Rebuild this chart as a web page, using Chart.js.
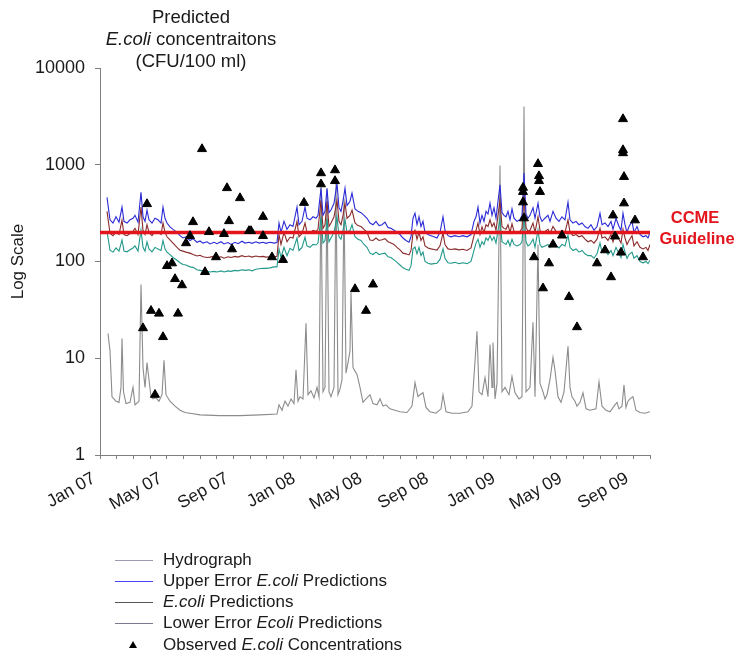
<!DOCTYPE html>
<html lang="en">
<head>
<meta charset="UTF-8" />
<title>Predicted E.coli concentrations</title>
<script src="https://cdn.jsdelivr.net/npm/chart.js"></script>
<style>
  html, body { margin: 0; padding: 0; background: #fff; }
  #wrap { width: 737px; height: 655px; }
</style>
</head>
<body>
<div id="wrap"><canvas id="ecoliChart" width="737" height="655"></canvas></div>
<script>
// x values are months since Jan 2007 (0 = Jan 07, 33 = Oct 09)
const tickLabels = ['Jan 07', 'May 07', 'Sep 07', 'Jan 08', 'May 08', 'Sep 08', 'Jan 09', 'May 09', 'Sep 09'];
const yTicks = [1, 10, 100, 1000, 10000];
const guideline = 200;

const hydroMonths = [
  0.48, 0.60, 0.72, 0.96, 1.14, 1.26, 1.32, 1.41, 1.56, 1.80,
  1.98, 2.10, 2.34, 2.46, 2.58, 2.70, 2.82, 2.94, 3.06, 3.18,
  3.36, 3.54, 3.72, 3.84, 3.96, 4.20, 4.50, 4.80, 5.10, 5.40,
  6.00, 7.20, 8.40, 9.60, 10.62, 10.74, 10.92, 11.10, 11.28, 11.46,
  11.64, 11.76, 11.88, 12.00, 12.18, 12.36, 12.48, 12.66, 12.84, 13.02,
  13.14, 13.26, 13.38, 13.50, 13.62, 13.74, 13.86, 14.04, 14.16, 14.28,
  14.40, 14.52, 14.64, 14.76, 14.88, 15.00, 15.06, 15.18, 15.42, 15.60,
  15.78, 15.96, 16.20, 16.38, 16.62, 16.80, 16.98, 17.16, 17.40, 17.70,
  18.00, 18.42, 18.72, 18.90, 19.08, 19.20, 19.38, 19.56, 19.80, 20.16,
  20.46, 20.58, 20.76, 21.12, 21.60, 22.08, 22.32, 22.62, 22.74, 22.92,
  23.10, 23.28, 23.40, 23.52, 23.58, 23.70, 23.82, 24.00, 24.12, 24.30,
  24.54, 24.72, 24.90, 25.14, 25.32, 25.44, 25.56, 25.80, 25.98, 26.10,
  26.28, 26.40, 26.58, 26.70, 26.82, 27.00, 27.18, 27.30, 27.48, 27.66,
  27.84, 28.08, 28.20, 28.32, 28.50, 28.62, 28.80, 28.98, 29.16, 29.40,
  29.76, 29.94, 30.12, 30.36, 30.60, 30.84, 31.02, 31.14, 31.32, 31.44,
  31.56, 31.68, 31.80, 31.98, 32.16, 32.40, 32.70, 33.00
];
const hydroFlow = [
  18, 12, 4.0, 3.6, 3.5, 5, 16, 4.5, 3.4, 3.5,
  5, 3.3, 3.6, 58, 8, 5, 9, 6, 4, 3.8,
  3.9, 3.6, 4.2, 9.5, 4.2, 3.6, 3.2, 2.9, 2.75, 2.7,
  2.6, 2.55, 2.55, 2.6, 2.65, 3.3, 2.9, 3.6, 3.2, 3.8,
  3.4, 7.6, 3.6, 4.0, 3.8, 23, 4.2, 4.6, 3.9, 5,
  4, 600, 4.5, 5, 550, 4.5, 4.0, 5, 700, 4.2,
  4.8, 6, 450, 7, 9, 12, 48, 8, 6.8, 5,
  3.5, 3.8, 4.2, 3.4, 3.3, 3.8, 3.2, 3.3, 3.0, 2.9,
  2.8, 2.75, 3.2, 5.6, 4, 4.2, 4.4, 3.1, 2.8, 2.7,
  3, 4.2, 2.8, 2.7, 2.7, 2.8, 3.2, 19, 4.5, 4.2,
  6.3, 4, 13.9, 5, 14.5, 3.8, 5.5, 980, 4.5, 5,
  4.2, 6.5, 4.4, 3.8, 4.0, 4000, 4.5, 5, 23.5, 4,
  150, 5.5, 4.5, 3.8, 4.2, 6, 10.2, 7.5, 4, 3.5,
  4.5, 13.3, 5, 4, 3.6, 3.2, 3.5, 4.4, 3.0, 2.9,
  3.0, 5.7, 3.2, 2.9, 2.8, 3.2, 3.5, 3, 3.2, 5.3,
  3.1, 3.6, 3.8, 4, 2.9, 2.75, 2.7, 2.8
];

const predMonths = [
  0.42, 0.60, 0.78, 0.96, 1.14, 1.32, 1.44, 1.62, 1.80, 1.98,
  2.10, 2.28, 2.46, 2.58, 2.70, 2.82, 2.94, 3.12, 3.30, 3.48,
  3.66, 3.78, 3.90, 4.02, 4.20, 4.38, 4.62, 4.80, 4.98, 5.16,
  5.40, 5.58, 5.82, 6.00, 6.18, 6.42, 6.60, 6.84, 7.02, 7.26,
  7.44, 7.68, 7.86, 8.10, 8.28, 8.52, 8.70, 8.94, 9.12, 9.36,
  9.54, 9.78, 9.96, 10.20, 10.44, 10.62, 10.74, 10.86, 11.04, 11.22,
  11.40, 11.58, 11.82, 11.94, 12.12, 12.30, 12.42, 12.60, 12.78, 12.96,
  13.08, 13.26, 13.38, 13.50, 13.62, 13.74, 13.86, 14.04, 14.22, 14.34,
  14.46, 14.58, 14.70, 14.82, 15.00, 15.12, 15.30, 15.48, 15.66, 15.84,
  16.02, 16.20, 16.38, 16.56, 16.74, 16.92, 17.10, 17.28, 17.46, 17.64,
  17.82, 18.00, 18.18, 18.36, 18.54, 18.66, 18.78, 18.90, 19.02, 19.14,
  19.26, 19.38, 19.50, 19.68, 19.86, 20.04, 20.22, 20.40, 20.58, 20.70,
  20.88, 21.06, 21.30, 21.54, 21.78, 22.02, 22.26, 22.44, 22.56, 22.68,
  22.80, 22.92, 23.04, 23.16, 23.28, 23.40, 23.52, 23.64, 23.76, 23.88,
  24.00, 24.12, 24.24, 24.36, 24.48, 24.60, 24.72, 24.84, 25.02, 25.20,
  25.32, 25.44, 25.56, 25.68, 25.80, 25.98, 26.10, 26.28, 26.40, 26.52,
  26.70, 26.88, 27.00, 27.18, 27.36, 27.54, 27.72, 27.90, 28.08, 28.20,
  28.38, 28.56, 28.74, 28.92, 29.10, 29.28, 29.46, 29.64, 29.82, 30.00,
  30.12, 30.30, 30.48, 30.66, 30.78, 30.96, 31.14, 31.26, 31.38, 31.50,
  31.62, 31.74, 31.92, 32.04, 32.22, 32.40, 32.58, 32.76, 32.88, 33.00
];
const upperPred = [
  460, 270, 250, 290, 255, 365, 260, 250, 270, 280,
  300, 255, 520, 290, 260, 340, 270, 250, 280, 270,
  250, 365, 280, 250, 228, 215, 200, 185, 175, 180,
  165, 172, 158, 163, 155, 160, 152, 158, 153, 160,
  152, 157, 150, 158, 153, 162, 155, 158, 154, 160,
  155, 158, 154, 158, 155, 157, 250, 200, 260, 215,
  240, 230, 365, 240, 260, 365, 280, 270, 290, 280,
  300, 570, 300, 330, 570, 320, 340, 400, 640, 360,
  330, 420, 570, 380, 420, 510, 350, 330, 320, 300,
  280, 250, 240, 260, 235, 240, 255, 225, 220, 210,
  200, 190, 175, 165, 158, 180, 280, 316, 240, 290,
  230, 260, 200, 190, 185, 180, 175, 200, 290, 210,
  185, 180, 185, 180, 185, 180, 190, 260, 290, 365,
  250, 300, 260, 330, 310, 400, 300, 360, 280, 420,
  620, 320, 300, 290, 330, 270, 350, 280, 260, 270,
  300, 820, 310, 280, 300, 360, 280, 400, 290, 260,
  280, 300, 260, 330, 280, 260, 290, 270, 410, 270,
  250, 260, 240, 250, 230, 220, 240, 210, 230, 315,
  240, 250, 230, 260, 215, 280, 230, 210, 315, 240,
  200, 230, 260, 200, 230, 190, 180, 185, 175, 200
];
const ecoliPred = [
  330, 196, 185, 200, 190, 267, 190, 185, 195, 205,
  220, 190, 365, 210, 190, 240, 200, 185, 205, 200,
  190, 250, 200, 180, 167, 155, 140, 131, 128, 125,
  122, 118, 114, 116, 112, 110, 111, 113, 110, 112,
  108, 112, 110, 113, 111, 115, 112, 114, 111, 114,
  112, 113, 111, 112, 112, 113, 190, 150, 200, 160,
  178, 175, 260, 180, 195, 250, 200, 195, 210, 205,
  215, 430, 220, 240, 420, 230, 250, 290, 430, 260,
  240, 300, 400, 280, 300, 340, 250, 235, 230, 215,
  200, 167, 165, 175, 165, 168, 172, 160, 155, 150,
  140, 132, 122, 120, 117, 130, 195, 211, 170, 200,
  165, 180, 145, 138, 135, 133, 131, 145, 196, 150,
  135, 133, 135, 132, 134, 130, 138, 185, 210, 250,
  190, 228, 200, 240, 230, 270, 230, 250, 210, 300,
  430, 230, 220, 215, 240, 200, 245, 205, 200, 205,
  220, 510, 225, 205, 210, 250, 200, 290, 210, 195,
  205, 215, 195, 230, 205, 195, 210, 200, 270, 200,
  185, 190, 180, 185, 170, 160, 165, 155, 170, 220,
  175, 180, 165, 190, 160, 200, 170, 155, 215, 175,
  150, 165, 185, 145, 160, 140, 135, 140, 130, 150
];
const lowerPred = [
  205, 131, 125, 138, 128, 167, 128, 126, 132, 138,
  145, 128, 211, 140, 128, 160, 135, 126, 140, 135,
  130, 165, 135, 125, 118, 110, 103, 97, 93, 92,
  88, 87, 82, 81, 80, 79, 78, 79, 78, 80,
  78, 80, 79, 81, 80, 82, 81, 82, 80, 83,
  84, 85, 85, 86, 88, 88, 135, 110, 140, 115,
  137, 130, 175, 130, 140, 178, 145, 140, 150, 148,
  155, 290, 155, 165, 275, 160, 175, 200, 290, 180,
  170, 210, 270, 200, 210, 240, 180, 170, 165, 150,
  140, 122, 118, 125, 118, 120, 122, 112, 110, 104,
  98, 92, 86, 83, 81, 90, 135, 141, 120, 140,
  115, 125, 100, 96, 94, 95, 96, 105, 135, 108,
  97, 96, 98, 95, 97, 95, 100, 130, 155, 170,
  140, 160, 150, 175, 165, 185, 165, 180, 155, 210,
  275, 160, 155, 150, 165, 145, 170, 150, 145, 150,
  160, 325, 160, 145, 150, 170, 140, 211, 150, 140,
  145, 150, 140, 160, 145, 138, 150, 145, 187, 140,
  130, 135, 125, 130, 120, 115, 115, 108, 120, 155,
  125, 130, 118, 130, 115, 140, 120, 110, 150, 125,
  108, 118, 125, 108, 115, 100, 97, 100, 95, 103
];

const obsMonths = [
  2.58, 2.82, 3.06, 3.30, 3.54, 3.78, 4.02, 4.32, 4.50, 4.68,
  4.92, 5.16, 5.40, 5.58, 6.12, 6.30, 6.54, 6.96, 7.44, 7.62,
  7.74, 7.92, 8.40, 8.94, 9.06, 9.78, 9.78, 10.32, 10.98, 12.24,
  13.26, 13.26, 14.10, 14.10, 15.30, 15.96, 16.38, 25.38, 25.38, 25.38,
  25.44, 26.04, 26.28, 26.34, 26.34, 26.40, 26.58, 26.94, 27.18, 27.72,
  28.14, 28.62, 29.82, 30.30, 30.66, 30.78, 30.90, 31.26, 31.38, 31.38,
  31.38, 31.44, 31.44, 32.10, 32.58
];
const obsEcoli = [
  20.5, 393, 31, 4.2, 29, 16.6, 90, 96, 66, 29,
  57, 155, 184, 256, 1455, 78, 202, 111, 193, 575,
  262, 134, 453, 207, 207, 290, 184, 111, 104, 405,
  820, 630, 880, 680, 52, 31, 58, 580, 525, 410,
  280, 111, 1020, 765, 680, 525, 53, 96, 150, 186,
  43, 21, 96, 131, 69, 300, 182, 124, 2970, 1420,
  1320, 750, 400, 267, 111
];

const FONT = '"Liberation Sans", Arial, sans-serif';
Chart.defaults.font.family = FONT;

function pairs(xs, ys) {
  return xs.map((x, i) => ({ x: x, y: ys[i] }));
}

const lineStyle = { pointRadius: 0, tension: 0, fill: false };

// text drawn with part-italic runs: [[text, italic], ...]
function drawRich(ctx, parts, x, y, size, align, weight) {
  const fonts = parts.map(p => (p[1] ? 'italic ' : '') + (weight || '') + ' ' + size + 'px ' + FONT);
  const widths = parts.map((p, i) => { ctx.font = fonts[i]; return ctx.measureText(p[0]).width; });
  const total = widths.reduce((a, b) => a + b, 0);
  let cx = align === 'center' ? x - total / 2 : x;
  ctx.textAlign = 'left';
  parts.forEach((p, i) => {
    ctx.font = fonts[i];
    ctx.fillText(p[0], cx, y);
    cx += widths[i];
  });
}

const overlayText = {
  id: 'overlayText',
  afterDraw(chart) {
    const ctx = chart.ctx;
    ctx.save();

    // title above the y axis
    ctx.fillStyle = '#1a1a1a';
    ctx.textBaseline = 'alphabetic';
    drawRich(ctx, [['Predicted']], 191, 23, 18.5, 'center');
    drawRich(ctx, [['E.coli', true], [' concentraitons']], 191, 45, 18.5, 'center');
    drawRich(ctx, [['(CFU/100 ml)']], 191, 67, 18.5, 'center');

    // guideline label
    ctx.fillStyle = '#e3141b';
    ctx.textBaseline = 'middle';
    drawRich(ctx, [['CCME']], 695, 218, 16.5, 'center', 'bold');
    drawRich(ctx, [['Guideline']], 697, 239, 16.5, 'center', 'bold');

    // legend
    const rows = [
      { color: '#9a9ab0', y: 560, parts: [['Hydrograph']] },
      { color: '#4646ff', y: 581, parts: [['Upper Error '], ['E.coli', true], [' Predictions']] },
      { color: '#555555', y: 602, parts: [['E.coli', true], [' Predictions']] },
      { color: '#7a7a8c', y: 623, parts: [['Lower Error '], ['Ecoli', true], [' Predictions']] },
      { marker: true, y: 645, parts: [['Observed '], ['E.coli', true], [' Concentrations']] }
    ];
    rows.forEach(r => {
      if (r.marker) {
        ctx.fillStyle = '#000';
        ctx.beginPath();
        ctx.moveTo(133, r.y - 4);
        ctx.lineTo(137, r.y + 3);
        ctx.lineTo(129, r.y + 3);
        ctx.closePath();
        ctx.fill();
      } else {
        ctx.strokeStyle = r.color;
        ctx.lineWidth = 1;
        ctx.beginPath();
        ctx.moveTo(115, r.y + 0.5);
        ctx.lineTo(153, r.y + 0.5);
        ctx.stroke();
      }
      ctx.fillStyle = '#1a1a1a';
      drawRich(ctx, r.parts, 163, r.y, 17, 'left');
    });

    ctx.restore();
  }
};

new Chart(document.getElementById('ecoliChart'), {
  type: 'line',
  data: {
    datasets: [
      {
        label: 'Observed E.coli Concentrations',
        data: pairs(obsMonths, obsEcoli),
        showLine: false,
        pointStyle: 'triangle',
        pointRadius: 5.2,
        pointBackgroundColor: '#000',
        pointBorderColor: '#000',
        pointBorderWidth: 1
      },
      Object.assign({
        label: 'CCME Guideline',
        data: pairs([0, 33], [guideline, guideline]),
        borderColor: '#e3141b',
        borderWidth: 3.5
      }, lineStyle),
      Object.assign({
        label: 'Upper Error E.coli Predictions',
        data: pairs(predMonths, upperPred),
        borderColor: '#2a2ad6',
        borderWidth: 1.1
      }, lineStyle),
      Object.assign({
        label: 'E.coli Predictions',
        data: pairs(predMonths, ecoliPred),
        borderColor: '#8a2b2b',
        borderWidth: 1.1
      }, lineStyle),
      Object.assign({
        label: 'Lower Error Ecoli Predictions',
        data: pairs(predMonths, lowerPred),
        borderColor: '#22998a',
        borderWidth: 1.1
      }, lineStyle),
      Object.assign({
        label: 'Hydrograph',
        data: pairs(hydroMonths, hydroFlow),
        borderColor: '#8c8c8c',
        borderWidth: 1.1
      }, lineStyle)
    ]
  },
  options: {
    responsive: false,
    animation: false,
    devicePixelRatio: 1,
    layout: { padding: { top: 68, right: 87, left: 0, bottom: 0 } },
    plugins: {
      legend: { display: false },
      tooltip: { enabled: false }
    },
    scales: {
      x: {
        type: 'linear',
        min: 0,
        max: 33,
        afterFit: s => { s.height = 200; },
        border: { color: '#7f7f7f', width: 1 },
        grid: { display: true, drawOnChartArea: false, drawTicks: true, tickLength: 4, color: '#7f7f7f' },
        ticks: {
          stepSize: 1,
          autoSkip: false,
          minRotation: 30,
          maxRotation: 30,
          padding: 9,
          labelOffset: -6,
          color: '#1a1a1a',
          font: { size: 17.5 },
          callback: v => (v % 4 === 0 && v / 4 < tickLabels.length) ? tickLabels[v / 4] : ''
        }
      },
      y: {
        type: 'logarithmic',
        min: 1,
        max: 10000,
        afterFit: s => { s.width = 100; },
        afterBuildTicks: s => { s.ticks = yTicks.map(v => ({ value: v })); },
        border: { color: '#7f7f7f', width: 1 },
        grid: { display: true, drawOnChartArea: false, drawTicks: true, tickLength: 5, color: '#7f7f7f' },
        ticks: {
          padding: 10,
          color: '#1a1a1a',
          font: { size: 18 },
          callback: v => String(v)
        },
        title: {
          display: true,
          text: 'Log Scale',
          color: '#1a1a1a',
          font: { size: 17 },
          padding: { top: 8, bottom: 0 }
        }
      }
    }
  },
  plugins: [overlayText]
});
</script>
</body>
</html>
